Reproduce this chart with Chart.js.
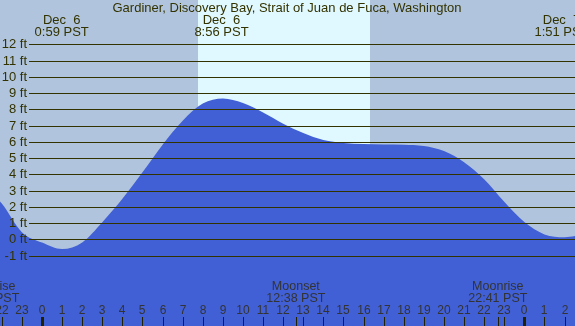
<!DOCTYPE html>
<html>
<head>
<meta charset="utf-8">
<script src="https://cdn.jsdelivr.net/npm/chart.js@4.4.0/dist/chart.umd.min.js"></script>
<style>
  body { margin: 0; background: #B0C4DE; }
  canvas { display: block; }
</style>
</head>
<body>
<canvas id="myChart" width="575" height="326"></canvas>
<script>
// tide height (ft) read at each hour, -2 = 22:00 Dec 5
const horas = [-2.15, -2, -1, 0, 1, 2, 3, 4, 5, 6, 7, 8, 9, 10, 11, 12, 13, 14, 15, 16, 17, 18, 19, 20, 21, 22, 23, 24, 25, 26, 26.6]
const alturas = [2.4, 2.2, 0.44, -0.20, -0.60, -0.19, 1.05, 2.49, 4.12, 5.82, 7.30, 8.35, 8.66, 8.38, 7.80, 7.11, 6.54, 6.11, 5.93, 5.86, 5.84, 5.82, 5.74, 5.43, 4.74, 3.70, 2.31, 1.06, 0.30, 0.13, 0.22]

const yTicks = [-1, 0, 1, 2, 3, 4, 5, 6, 7, 8, 9, 10, 11, 12]
const xTicks = [-2, -1, 0, 1, 2, 3, 4, 5, 6, 7, 8, 9, 10, 11, 12, 13, 14, 15, 16, 17, 18, 19, 20, 21, 22, 23, 24, 25, 26]
const xTickLabels = ['22', '23', '0', '1', '2', '3', '4', '5', '6', '7', '8', '9', '10', '11', '12', '13', '14', '15', '16', '17', '18', '19', '20', '21', '22', '23', '0', '1', '2']

// high / low tides at top
const mareHoras = [0.98, 8.93, 25.85]
const mareDias = ['Dec  6', 'Dec  6', 'Dec  7']
const mareTextos = ['0:59 PST', '8:56 PST', '1:51 PST']

// moon events at bottom
const luaHoras = [-2.6, 12.63, 22.68]
const luaNomes = ['Moonrise', 'Moonset', 'Moonrise']
const luaTextos = ['21:24 PST', '12:38 PST', '22:41 PST']

const nascerSol = 7.77
const porSol = 16.32

const titulo = 'Gardiner, Discovery Bay, Strait of Juan de Fuca, Washington'

const fundo = {
    id: 'fundo',
    beforeDatasetsDraw(chart) {
        const ctx = chart.ctx
        const x = chart.scales.x
        const area = chart.chartArea
        ctx.save()
        ctx.fillStyle = '#B0C4DE'
        ctx.fillRect(area.left, area.top, area.right - area.left, area.bottom - area.top)
        const x1 = Math.round(x.getPixelForValue(nascerSol))
        const x2 = Math.round(x.getPixelForValue(porSol))
        ctx.fillStyle = '#E0F8FF'
        ctx.fillRect(x1, area.top, x2 - x1, area.bottom - area.top)
        ctx.restore()
    }
}

const textos = {
    id: 'textos',
    afterDatasetsDraw(chart) {
        const ctx = chart.ctx
        const x = chart.scales.x
        const y = chart.scales.y
        const area = chart.chartArea
        ctx.save()
        ctx.font = '13px "Liberation Sans", Arial, sans-serif'
        ctx.textBaseline = 'middle'

        // grid lines + ft labels
        yTicks.forEach(function (v) {
            const py = Math.round(y.getPixelForValue(v)) + 0.5
            ctx.strokeStyle = '#333300'
            ctx.lineWidth = 1
            ctx.beginPath()
            ctx.moveTo(29, py)
            ctx.lineTo(area.right, py)
            ctx.stroke()
            ctx.fillStyle = '#333300'
            ctx.textAlign = 'right'
            ctx.fillText(v + ' ft', 27, py)
        })

        // title
        ctx.textAlign = 'center'
        ctx.fillStyle = '#333300'
        ctx.fillText(titulo, 287, 8)

        // tide times
        mareHoras.forEach(function (h, i) {
            const px = x.getPixelForValue(h)
            ctx.fillText(mareDias[i], px, 20)
            ctx.fillText(mareTextos[i], px, 32)
        })

        // moon events
        ctx.font = '12.5px "Liberation Sans", Arial, sans-serif'
        ctx.fillStyle = '#333333'
        luaHoras.forEach(function (h, i) {
            const px = x.getPixelForValue(h)
            ctx.fillText(luaNomes[i], px, 287)
            ctx.fillText(luaTextos[i], px, 299)
        })

        // hour labels and ticks
        ctx.font = '12px "Liberation Sans", Arial, sans-serif'
        xTicks.forEach(function (h, i) {
            const px = Math.round(x.getPixelForValue(h))
            ctx.fillStyle = '#333333'
            ctx.fillText(xTickLabels[i], px, 311)
            ctx.fillStyle = '#222200'
            if (xTickLabels[i] == '0') {
                ctx.fillRect(px - 1, 317, 3, 9)
            } else {
                ctx.fillRect(px, 317, 1, 9)
            }
        })
        luaHoras.forEach(function (h) {
            const px = Math.round(x.getPixelForValue(h))
            ctx.fillRect(px, 317, 1, 9)
        })
        ctx.restore()
    }
}

const grafico = document.getElementById('myChart')
new Chart(grafico, {
    type: 'line',
    data: {
        datasets: [{
            label: 'Tide',
            data: horas.map(function (h, i) { return { x: h, y: alturas[i] } }),
            backgroundColor: '#4160D6',
            borderColor: '#4160D6',
            borderWidth: 0,
            pointRadius: 0,
            fill: 'start',
            cubicInterpolationMode: 'monotone'
        }]
    },
    options: {
        responsive: false,
        animation: false,
        layout: { padding: 0 },
        plugins: {
            legend: { display: false },
            tooltip: { enabled: false }
        },
        scales: {
            x: { type: 'linear', min: -2.09, max: 26.52, display: false },
            y: { min: -5.336, max: 14.726, display: false }
        }
    },
    plugins: [fundo, textos]
})
</script>
</body>
</html>
